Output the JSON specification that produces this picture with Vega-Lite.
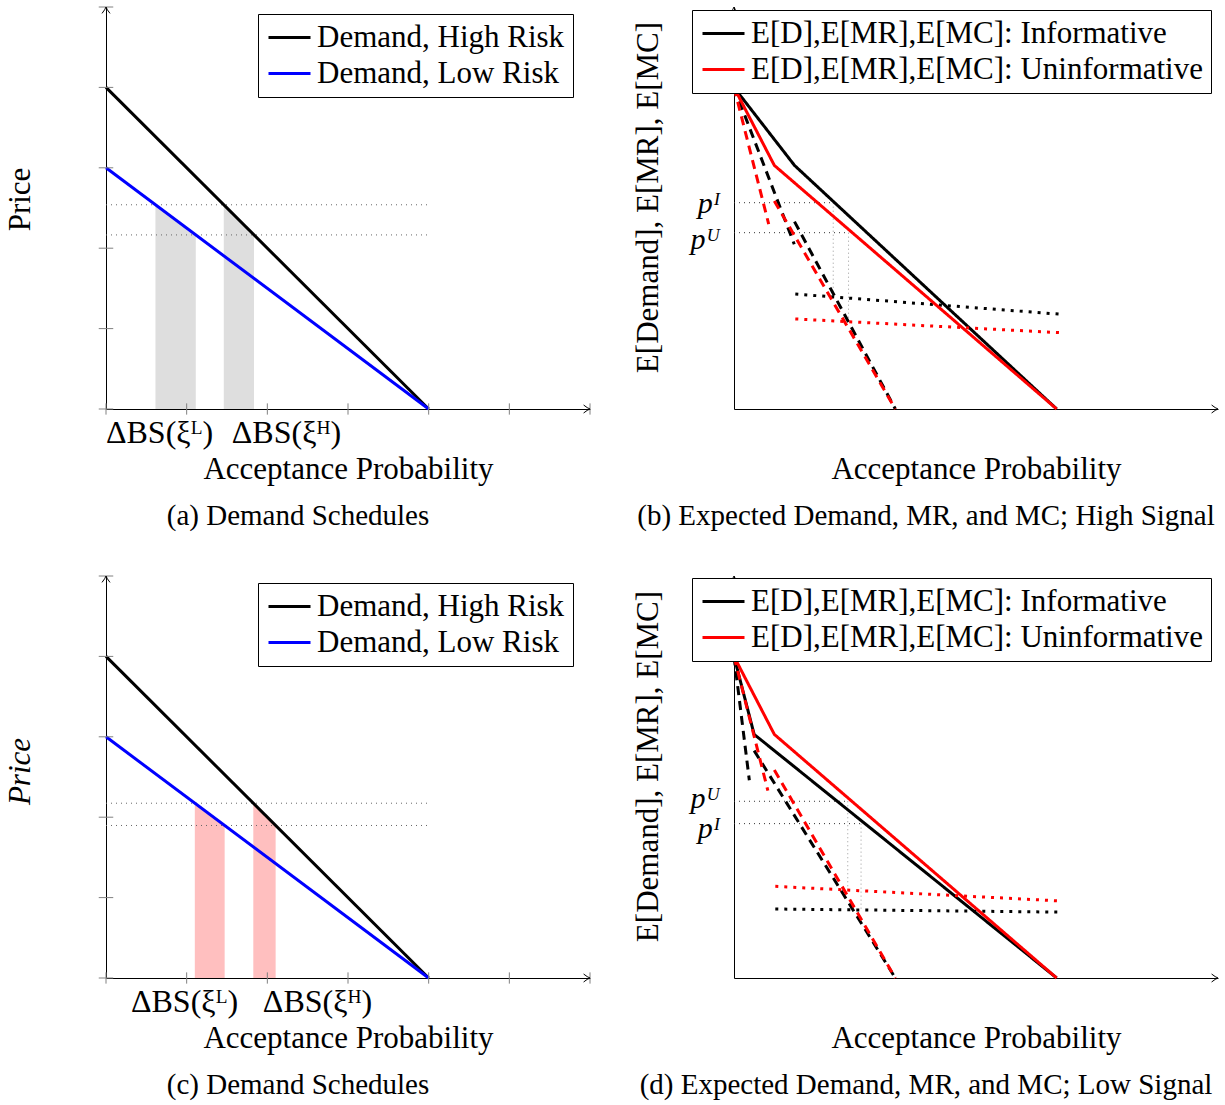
{
  "$schema": "https://vega.github.io/schema/vega-lite/v6.json",
  "background": "white",
  "padding": {"left": 4, "top": 5, "right": 5, "bottom": 5},
  "config": {
    "view": {"stroke": null},
    "font": "Liberation Serif",
    "axis": {"grid": false, "domainColor": "black", "domainWidth": 1, "labelFont": "Liberation Serif", "titleFont": "Liberation Serif", "labelColor": "black", "titleColor": "black", "titleFontWeight": "normal", "titleFontSize": 31, "labelFontSize": 30, "labelOverlap": false, "labelFlush": false},
    "legend": {"labelFont": "Liberation Serif", "labelColor": "black"},
    "title": {"font": "Liberation Serif", "fontSize": 29, "fontWeight": "normal", "color": "black"}
  },
  "datasets": {
    "demand": [
      {"s": "Demand, High Risk", "x": 0, "y": 4}, {"s": "Demand, High Risk", "x": 4, "y": 0},
      {"s": "Demand, Low Risk", "x": 0, "y": 3}, {"s": "Demand, Low Risk", "x": 4, "y": 0}
    ],
    "a_bands": [
      {"b": "L", "x": 0.613, "y": 2.54}, {"b": "L", "x": 1.113, "y": 2.165},
      {"b": "H", "x": 1.46, "y": 2.54}, {"b": "H", "x": 1.835, "y": 2.165}
    ],
    "a_levels": [{"x": 0, "x2": 4, "y": 2.54}, {"x": 0, "x2": 4, "y": 2.165}],
    "c_bands": [
      {"b": "L", "x": 1.101, "y": 2.174}, {"b": "L", "x": 1.471, "y": 1.897},
      {"b": "H", "x": 1.826, "y": 2.174}, {"b": "H", "x": 2.103, "y": 1.897}
    ],
    "c_levels": [{"x": 0, "x2": 4, "y": 2.174}, {"x": 0, "x2": 4, "y": 1.897}],
    "xticks": [{"t": 0}, {"t": 1}, {"t": 2}, {"t": 3}, {"t": 4}, {"t": 5}, {"t": 6}],
    "yticks": [{"t": 0}, {"t": 1}, {"t": 2}, {"t": 3}, {"t": 4}, {"t": 5}],
    "arrows": [{"dir": "x", "x": 6, "y": 0}, {"dir": "y", "x": 0, "y": 5}],
    "b_curves": [
      {"info": "E[D],E[MR],E[MC]: Informative", "kind": "MC", "seg": "IMC", "x": 0.76, "y": 1.43},
      {"info": "E[D],E[MR],E[MC]: Informative", "kind": "MC", "seg": "IMC", "x": 4.03, "y": 1.18},
      {"info": "E[D],E[MR],E[MC]: Informative", "kind": "MR", "seg": "IMR1", "x": 0, "y": 4},
      {"info": "E[D],E[MR],E[MC]: Informative", "kind": "MR", "seg": "IMR1", "x": 0.747, "y": 2.05},
      {"info": "E[D],E[MR],E[MC]: Informative", "kind": "MR", "seg": "IMR2", "x": 0.75, "y": 2.331},
      {"info": "E[D],E[MR],E[MC]: Informative", "kind": "MR", "seg": "IMR2", "x": 2.0, "y": 0},
      {"info": "E[D],E[MR],E[MC]: Informative", "kind": "D", "seg": "ID", "x": 0, "y": 4},
      {"info": "E[D],E[MR],E[MC]: Informative", "kind": "D", "seg": "ID", "x": 0.75, "y": 3.03},
      {"info": "E[D],E[MR],E[MC]: Informative", "kind": "D", "seg": "ID", "x": 4, "y": 0},
      {"info": "E[D],E[MR],E[MC]: Uninformative", "kind": "MC", "seg": "UMC", "x": 0.76, "y": 1.12},
      {"info": "E[D],E[MR],E[MC]: Uninformative", "kind": "MC", "seg": "UMC", "x": 4.03, "y": 0.95},
      {"info": "E[D],E[MR],E[MC]: Uninformative", "kind": "MR", "seg": "UMR1", "x": 0, "y": 4},
      {"info": "E[D],E[MR],E[MC]: Uninformative", "kind": "MR", "seg": "UMR1", "x": 0.43, "y": 2.3},
      {"info": "E[D],E[MR],E[MC]: Uninformative", "kind": "MR", "seg": "UMR2", "x": 0.5, "y": 2.588},
      {"info": "E[D],E[MR],E[MC]: Uninformative", "kind": "MR", "seg": "UMR2", "x": 2.0, "y": 0},
      {"info": "E[D],E[MR],E[MC]: Uninformative", "kind": "D", "seg": "UD", "x": 0, "y": 4},
      {"info": "E[D],E[MR],E[MC]: Uninformative", "kind": "D", "seg": "UD", "x": 0.5, "y": 3.03},
      {"info": "E[D],E[MR],E[MC]: Uninformative", "kind": "D", "seg": "UD", "x": 4, "y": 0}
    ],
    "b_hp": [{"x": 0, "x2": 1.23, "y": 2.566}, {"x": 0, "x2": 1.42, "y": 2.193}],
    "b_vp": [{"x": 1.23, "y": 2.566, "y2": 1.385}, {"x": 1.42, "y": 2.193, "y2": 1.1}],
    "d_curves": [
      {"info": "E[D],E[MR],E[MC]: Informative", "kind": "MC", "seg": "IMC", "x": 0.512, "y": 0.858},
      {"info": "E[D],E[MR],E[MC]: Informative", "kind": "MC", "seg": "IMC", "x": 4.01, "y": 0.82},
      {"info": "E[D],E[MR],E[MC]: Informative", "kind": "MR", "seg": "IMR1", "x": 0, "y": 4},
      {"info": "E[D],E[MR],E[MC]: Informative", "kind": "MR", "seg": "IMR1", "x": 0.19, "y": 2.46},
      {"info": "E[D],E[MR],E[MC]: Informative", "kind": "MR", "seg": "IMR2", "x": 0.25, "y": 2.828},
      {"info": "E[D],E[MR],E[MC]: Informative", "kind": "MR", "seg": "IMR2", "x": 2.0, "y": 0},
      {"info": "E[D],E[MR],E[MC]: Informative", "kind": "D", "seg": "ID", "x": 0, "y": 4},
      {"info": "E[D],E[MR],E[MC]: Informative", "kind": "D", "seg": "ID", "x": 0.25, "y": 3.03},
      {"info": "E[D],E[MR],E[MC]: Informative", "kind": "D", "seg": "ID", "x": 4, "y": 0},
      {"info": "E[D],E[MR],E[MC]: Uninformative", "kind": "MC", "seg": "UMC", "x": 0.512, "y": 1.14},
      {"info": "E[D],E[MR],E[MC]: Uninformative", "kind": "MC", "seg": "UMC", "x": 4.01, "y": 0.96},
      {"info": "E[D],E[MR],E[MC]: Uninformative", "kind": "MR", "seg": "UMR1", "x": 0, "y": 4},
      {"info": "E[D],E[MR],E[MC]: Uninformative", "kind": "MR", "seg": "UMR1", "x": 0.42, "y": 2.33},
      {"info": "E[D],E[MR],E[MC]: Uninformative", "kind": "MR", "seg": "UMR2", "x": 0.5, "y": 2.588},
      {"info": "E[D],E[MR],E[MC]: Uninformative", "kind": "MR", "seg": "UMR2", "x": 2.0, "y": 0},
      {"info": "E[D],E[MR],E[MC]: Uninformative", "kind": "D", "seg": "UD", "x": 0, "y": 4},
      {"info": "E[D],E[MR],E[MC]: Uninformative", "kind": "D", "seg": "UD", "x": 0.5, "y": 3.03},
      {"info": "E[D],E[MR],E[MC]: Uninformative", "kind": "D", "seg": "UD", "x": 4, "y": 0}
    ],
    "d_hp": [{"x": 0, "x2": 1.41, "y": 2.198}, {"x": 0, "x2": 1.575, "y": 1.92}],
    "d_vp": [{"x": 1.41, "y": 2.198, "y2": 1.1}, {"x": 1.575, "y": 1.92, "y2": 0.86}]
  },
  "columns": 2,
  "spacing": {"row": 167, "column": 144},
  "bounds": "flush",
  "resolve": {
    "scale": {"x": "independent", "y": "independent", "color": "independent", "strokeDash": "independent", "shape": "independent"},
    "axis": {"x": "independent", "y": "independent"},
    "legend": {"color": "independent"}
  },
  "concat": [
    {
      "width": 484, "height": 402,
      "title": {"text": "(a) Demand Schedules", "orient": "bottom", "anchor": "middle", "frame": "bounds", "offset": 18},
      "layer": [
        {"data": {"name": "a_bands"}, "mark": {"type": "area", "color": "#dedede", "opacity": 1},
         "encoding": {
           "x": {"field": "x", "type": "quantitative", "scale": {"domain": [0, 6], "nice": false, "zero": false},
                 "axis": {"values": [0.657, 2.231], "labelExpr": "datum.value < 1 ? 'ΔBS(ξᴸ)' : 'ΔBS(ξᴴ)'", "ticks": false, "labelPadding": 8, "labelFontSize": 32, "title": "Acceptance Probability", "titleY": 69, "titleBaseline": "alphabetic"}},
           "y": {"field": "y", "type": "quantitative", "stack": null, "scale": {"domain": [0, 5], "nice": false, "zero": false},
                 "axis": {"labels": false, "ticks": false, "title": "Price", "titleX": -86, "titleY": 192, "titleBaseline": "middle", "titleAngle": 270}},
           "detail": {"field": "b"}}},
        {"data": {"name": "a_levels"}, "mark": {"type": "rule", "color": "#666666", "strokeWidth": 1, "strokeDash": [1, 4]},
         "encoding": {
           "x": {"field": "x", "type": "quantitative", "scale": {"domain": [0, 6], "nice": false, "zero": false}},
           "x2": {"field": "x2"},
           "y": {"field": "y", "type": "quantitative", "scale": {"domain": [0, 5], "nice": false, "zero": false}}}},
        {"data": {"name": "demand"}, "mark": {"type": "line", "strokeWidth": 3},
         "encoding": {
           "x": {"field": "x", "type": "quantitative", "scale": {"domain": [0, 6], "nice": false, "zero": false}},
           "y": {"field": "y", "type": "quantitative", "scale": {"domain": [0, 5], "nice": false, "zero": false}},
           "color": {"field": "s", "type": "nominal", "scale": {"domain": ["Demand, High Risk", "Demand, Low Risk"], "range": ["#000000", "#0000ff"]},
                     "legend": {"title": null, "orient": "none", "legendX": 152, "legendY": 7, "symbolType": "M-3,0H3", "symbolSize": 196, "symbolOffset": 8, "symbolStrokeWidth": 3, "labelFontSize": 31, "padding": 8, "rowPadding": 4, "labelOffset": 12, "strokeColor": "black", "fillColor": "white", "zindex": 3, "labelLimit": 700}}}},
        {"data": {"name": "xticks"}, "mark": {"type": "rule", "color": "#808080", "strokeWidth": 1},
         "encoding": {
           "x": {"field": "t", "type": "quantitative", "scale": {"domain": [0, 6], "nice": false, "zero": false}},
           "y": {"datum": -0.07, "type": "quantitative", "scale": {"domain": [0, 5], "nice": false, "zero": false}},
           "y2": {"datum": 0.07}}},
        {"data": {"name": "yticks"}, "mark": {"type": "rule", "color": "#808080", "strokeWidth": 1},
         "encoding": {
           "y": {"field": "t", "type": "quantitative", "scale": {"domain": [0, 5], "nice": false, "zero": false}},
           "x": {"datum": -0.09, "type": "quantitative", "scale": {"domain": [0, 6], "nice": false, "zero": false}},
           "x2": {"datum": 0.09}}},
        {"data": {"name": "arrows"}, "mark": {"type": "point", "filled": false, "stroke": "black", "strokeWidth": 1, "size": 64, "opacity": 1},
         "encoding": {
           "x": {"field": "x", "type": "quantitative", "scale": {"domain": [0, 6], "nice": false, "zero": false}},
           "y": {"field": "y", "type": "quantitative", "scale": {"domain": [0, 5], "nice": false, "zero": false}},
           "shape": {"field": "dir", "type": "nominal", "scale": {"domain": ["x", "y"], "range": ["M-1.6,-1 Q-0.6,-0.2 0,0 Q-0.6,0.2 -1.6,1", "M-1,1.6 Q-0.2,0.6 0,0 Q0.2,0.6 1,1.6"]}, "legend": null}}}
      ]
    },
    {
      "width": 484, "height": 402,
      "title": {"text": "(b) Expected Demand, MR, and MC; High Signal", "orient": "bottom", "anchor": "middle", "frame": "bounds", "offset": 18},
      "layer": [
        {"data": {"name": "b_hp"}, "mark": {"type": "rule", "color": "#333333", "strokeWidth": 1, "strokeDash": [1, 4]},
         "encoding": {
           "x": {"field": "x", "type": "quantitative", "scale": {"domain": [0, 6], "nice": false, "zero": false},
                 "axis": {"labels": false, "ticks": false, "title": "Acceptance Probability", "titleY": 69, "titleBaseline": "alphabetic"}},
           "x2": {"field": "x2"},
           "y": {"field": "y", "type": "quantitative", "scale": {"domain": [0, 5], "nice": false, "zero": false},
                 "axis": {"values": [2.566, 2.193], "labelExpr": "datum.value > 2.4 ? 'pᴵ' : 'pᵁ'", "ticks": false, "labelPadding": 14, "labelFontStyle": "italic", "labelOffset": {"condition": {"test": "datum.value > 2.4", "value": 1}, "value": 7}, "title": "E[Demand], E[MR], E[MC]", "titleX": -86, "titleY": 190, "titleBaseline": "middle", "titleAngle": 270}}}},
        {"data": {"name": "b_vp"}, "mark": {"type": "rule", "color": "#999999", "strokeWidth": 1, "strokeDash": [1, 3]},
         "encoding": {
           "x": {"field": "x", "type": "quantitative", "scale": {"domain": [0, 6], "nice": false, "zero": false}},
           "y": {"field": "y", "type": "quantitative", "scale": {"domain": [0, 5], "nice": false, "zero": false}},
           "y2": {"field": "y2"}}},
        {"data": {"name": "b_curves"}, "mark": {"type": "line", "strokeWidth": 3},
         "encoding": {
           "x": {"field": "x", "type": "quantitative", "scale": {"domain": [0, 6], "nice": false, "zero": false}},
           "y": {"field": "y", "type": "quantitative", "scale": {"domain": [0, 5], "nice": false, "zero": false}},
           "detail": {"field": "seg"},
           "strokeDash": {"field": "kind", "type": "nominal", "scale": {"domain": ["D", "MR", "MC"], "range": [[1, 0], [9, 6], [3, 6]]}, "legend": null},
           "color": {"field": "info", "type": "nominal", "scale": {"domain": ["E[D],E[MR],E[MC]: Informative", "E[D],E[MR],E[MC]: Uninformative"], "range": ["#000000", "#ff0000"]},
                     "legend": {"title": null, "orient": "none", "legendX": -42, "legendY": 3, "symbolType": "M-3,0H3", "symbolSize": 196, "symbolOffset": 8, "symbolStrokeWidth": 3, "symbolDash": [1, 0], "labelFontSize": 31, "padding": 8, "rowPadding": 4, "labelOffset": 12, "strokeColor": "black", "fillColor": "white", "zindex": 3, "labelLimit": 700}}}},
        {"data": {"name": "arrows"}, "mark": {"type": "point", "filled": false, "stroke": "black", "strokeWidth": 1, "size": 64, "opacity": 1},
         "encoding": {
           "x": {"field": "x", "type": "quantitative", "scale": {"domain": [0, 6], "nice": false, "zero": false}},
           "y": {"field": "y", "type": "quantitative", "scale": {"domain": [0, 5], "nice": false, "zero": false}},
           "shape": {"field": "dir", "type": "nominal", "scale": {"domain": ["x", "y"], "range": ["M-1.6,-1 Q-0.6,-0.2 0,0 Q-0.6,0.2 -1.6,1", "M-1,1.6 Q-0.2,0.6 0,0 Q0.2,0.6 1,1.6"]}, "legend": null}}}
      ]
    },
    {
      "width": 484, "height": 402,
      "title": {"text": "(c) Demand Schedules", "orient": "bottom", "anchor": "middle", "frame": "bounds", "offset": 18},
      "layer": [
        {"data": {"name": "c_bands"}, "mark": {"type": "area", "color": "#ffbfbf", "opacity": 1},
         "encoding": {
           "x": {"field": "x", "type": "quantitative", "scale": {"domain": [0, 6], "nice": false, "zero": false},
                 "axis": {"values": [0.967, 2.616], "labelExpr": "datum.value < 1.5 ? 'ΔBS(ξᴸ)' : 'ΔBS(ξᴴ)'", "ticks": false, "labelPadding": 8, "labelFontSize": 32, "title": "Acceptance Probability", "titleY": 69, "titleBaseline": "alphabetic"}},
           "y": {"field": "y", "type": "quantitative", "stack": null, "scale": {"domain": [0, 5], "nice": false, "zero": false},
                 "axis": {"labels": false, "ticks": false, "title": "Price", "titleFontStyle": "italic", "titleX": -86, "titleY": 195, "titleBaseline": "middle", "titleAngle": 270}},
           "detail": {"field": "b"}}},
        {"data": {"name": "c_levels"}, "mark": {"type": "rule", "color": "#666666", "strokeWidth": 1, "strokeDash": [1, 4]},
         "encoding": {
           "x": {"field": "x", "type": "quantitative", "scale": {"domain": [0, 6], "nice": false, "zero": false}},
           "x2": {"field": "x2"},
           "y": {"field": "y", "type": "quantitative", "scale": {"domain": [0, 5], "nice": false, "zero": false}}}},
        {"data": {"name": "demand"}, "mark": {"type": "line", "strokeWidth": 3},
         "encoding": {
           "x": {"field": "x", "type": "quantitative", "scale": {"domain": [0, 6], "nice": false, "zero": false}},
           "y": {"field": "y", "type": "quantitative", "scale": {"domain": [0, 5], "nice": false, "zero": false}},
           "color": {"field": "s", "type": "nominal", "scale": {"domain": ["Demand, High Risk", "Demand, Low Risk"], "range": ["#000000", "#0000ff"]},
                     "legend": {"title": null, "orient": "none", "legendX": 152, "legendY": 7, "symbolType": "M-3,0H3", "symbolSize": 196, "symbolOffset": 8, "symbolStrokeWidth": 3, "labelFontSize": 31, "padding": 8, "rowPadding": 4, "labelOffset": 12, "strokeColor": "black", "fillColor": "white", "zindex": 3, "labelLimit": 700}}}},
        {"data": {"name": "xticks"}, "mark": {"type": "rule", "color": "#808080", "strokeWidth": 1},
         "encoding": {
           "x": {"field": "t", "type": "quantitative", "scale": {"domain": [0, 6], "nice": false, "zero": false}},
           "y": {"datum": -0.07, "type": "quantitative", "scale": {"domain": [0, 5], "nice": false, "zero": false}},
           "y2": {"datum": 0.07}}},
        {"data": {"name": "yticks"}, "mark": {"type": "rule", "color": "#808080", "strokeWidth": 1},
         "encoding": {
           "y": {"field": "t", "type": "quantitative", "scale": {"domain": [0, 5], "nice": false, "zero": false}},
           "x": {"datum": -0.09, "type": "quantitative", "scale": {"domain": [0, 6], "nice": false, "zero": false}},
           "x2": {"datum": 0.09}}},
        {"data": {"name": "arrows"}, "mark": {"type": "point", "filled": false, "stroke": "black", "strokeWidth": 1, "size": 64, "opacity": 1},
         "encoding": {
           "x": {"field": "x", "type": "quantitative", "scale": {"domain": [0, 6], "nice": false, "zero": false}},
           "y": {"field": "y", "type": "quantitative", "scale": {"domain": [0, 5], "nice": false, "zero": false}},
           "shape": {"field": "dir", "type": "nominal", "scale": {"domain": ["x", "y"], "range": ["M-1.6,-1 Q-0.6,-0.2 0,0 Q-0.6,0.2 -1.6,1", "M-1,1.6 Q-0.2,0.6 0,0 Q0.2,0.6 1,1.6"]}, "legend": null}}}
      ]
    },
    {
      "width": 484, "height": 402,
      "title": {"text": "(d) Expected Demand, MR, and MC; Low Signal", "orient": "bottom", "anchor": "middle", "frame": "bounds", "offset": 18},
      "layer": [
        {"data": {"name": "d_hp"}, "mark": {"type": "rule", "color": "#333333", "strokeWidth": 1, "strokeDash": [1, 4]},
         "encoding": {
           "x": {"field": "x", "type": "quantitative", "scale": {"domain": [0, 6], "nice": false, "zero": false},
                 "axis": {"labels": false, "ticks": false, "title": "Acceptance Probability", "titleY": 69, "titleBaseline": "alphabetic"}},
           "x2": {"field": "x2"},
           "y": {"field": "y", "type": "quantitative", "scale": {"domain": [0, 5], "nice": false, "zero": false},
                 "axis": {"values": [2.198, 1.92], "labelExpr": "datum.value > 2 ? 'pᵁ' : 'pᴵ'", "ticks": false, "labelPadding": 14, "labelFontStyle": "italic", "labelOffset": {"condition": {"test": "datum.value > 2", "value": -3}, "value": 5}, "title": "E[Demand], E[MR], E[MC]", "titleX": -86, "titleY": 190, "titleBaseline": "middle", "titleAngle": 270}}}},
        {"data": {"name": "d_vp"}, "mark": {"type": "rule", "color": "#999999", "strokeWidth": 1, "strokeDash": [1, 3]},
         "encoding": {
           "x": {"field": "x", "type": "quantitative", "scale": {"domain": [0, 6], "nice": false, "zero": false}},
           "y": {"field": "y", "type": "quantitative", "scale": {"domain": [0, 5], "nice": false, "zero": false}},
           "y2": {"field": "y2"}}},
        {"data": {"name": "d_curves"}, "mark": {"type": "line", "strokeWidth": 3},
         "encoding": {
           "x": {"field": "x", "type": "quantitative", "scale": {"domain": [0, 6], "nice": false, "zero": false}},
           "y": {"field": "y", "type": "quantitative", "scale": {"domain": [0, 5], "nice": false, "zero": false}},
           "detail": {"field": "seg"},
           "strokeDash": {"field": "kind", "type": "nominal", "scale": {"domain": ["D", "MR", "MC"], "range": [[1, 0], [9, 6], [3, 6]]}, "legend": null},
           "color": {"field": "info", "type": "nominal", "scale": {"domain": ["E[D],E[MR],E[MC]: Informative", "E[D],E[MR],E[MC]: Uninformative"], "range": ["#000000", "#ff0000"]},
                     "legend": {"title": null, "orient": "none", "legendX": -42, "legendY": 2, "symbolType": "M-3,0H3", "symbolSize": 196, "symbolOffset": 8, "symbolStrokeWidth": 3, "symbolDash": [1, 0], "labelFontSize": 31, "padding": 8, "rowPadding": 4, "labelOffset": 12, "strokeColor": "black", "fillColor": "white", "zindex": 3, "labelLimit": 700}}}},
        {"data": {"name": "arrows"}, "mark": {"type": "point", "filled": false, "stroke": "black", "strokeWidth": 1, "size": 64, "opacity": 1},
         "encoding": {
           "x": {"field": "x", "type": "quantitative", "scale": {"domain": [0, 6], "nice": false, "zero": false}},
           "y": {"field": "y", "type": "quantitative", "scale": {"domain": [0, 5], "nice": false, "zero": false}},
           "shape": {"field": "dir", "type": "nominal", "scale": {"domain": ["x", "y"], "range": ["M-1.6,-1 Q-0.6,-0.2 0,0 Q-0.6,0.2 -1.6,1", "M-1,1.6 Q-0.2,0.6 0,0 Q0.2,0.6 1,1.6"]}, "legend": null}}}
      ]
    }
  ]
}
